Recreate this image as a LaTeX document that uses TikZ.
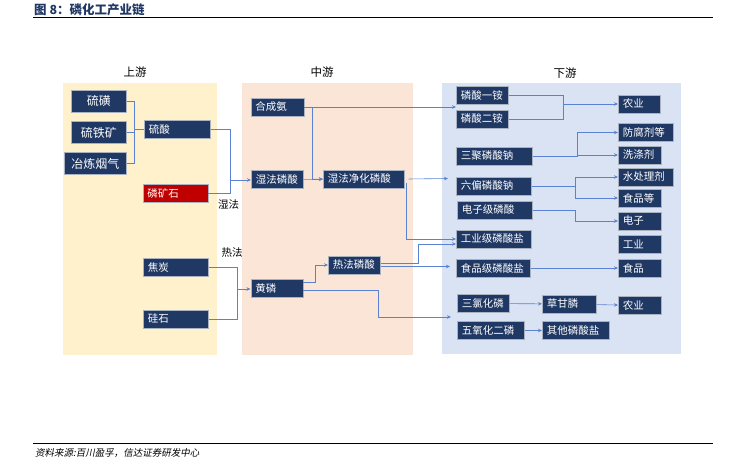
\documentclass[tikz,border=0pt]{standalone}
\usepackage{fontspec}
\newfontfamily\cjk{Noto Sans CJK SC}
\newfontfamily\cjkit[FakeSlant=0.2]{Noto Sans CJK SC}
\usepackage{xcolor}
\usepackage{tikz}
\usetikzlibrary{arrows.meta,calc}
\definecolor{navy}{RGB}{32,56,100}
\definecolor{orered}{RGB}{192,0,0}
\definecolor{boxedge}{RGB}{170,178,192}
\definecolor{linkblue}{RGB}{90,130,210}
\definecolor{upyellow}{RGB}{255,241,204}
\definecolor{midpeach}{RGB}{251,229,214}
\definecolor{downblue}{RGB}{218,227,243}

\begin{document}
\begin{tikzpicture}
    [
      x = 1pt, y = -1pt,
      box/.style = {draw=boxedge, line width=0.5pt, fill=navy, text=white, anchor=west,
        align=left, text width=#1, inner xsep=4.5pt, inner ysep=0pt, minimum height=18pt,
        font=\cjk\fontsize{10.5}{12}\selectfont},
      bigbox/.style = {box=#1, align=center, minimum height=22pt, font=\cjk\fontsize{12}{14}\selectfont},
      redbox/.style = {box=#1, fill=orered},
      link/.style = {draw=linkblue, line width=0.6pt},
      arrow/.style = {link, -{Stealth[length=4pt,width=3.5pt]}},
      stage/.style = {font=\cjk\fontsize{11.5}{13}\selectfont},
      way/.style = {font=\cjk\fontsize{10.5}{12}\selectfont},
    ]
    \useasboundingbox (0,0) rectangle (747,470);

    \node[anchor=west, text=navy, inner sep=0pt, font=\cjk\bfseries\fontsize{12.5}{14}\selectfont] (title) at (34,10) {图\ 8：磷化工产业链};
    \draw[line width=0.9pt] (33,17) -- (713,17);

    \fill[upyellow] (63,83) rectangle (217,355);
    \fill[midpeach] (242,83) rectangle (413,355);
    \fill[downblue] (442,83) rectangle (681,354);
    \node[stage] (up) at (135,72) {上游};
    \node[stage] (mid) at (322,72) {中游};
    \node[stage] (down) at (565,73) {下游};

    \node[bigbox=46pt] (liuhuang) at (71,101) {硫磺};
    \node[bigbox=46pt] (liutiekuang) at (71,132.5) {硫铁矿};
    \node[bigbox=53pt] (yanqi) at (64,163.5) {冶炼烟气};
    \node[box=57pt] (liusuan) at (144,129.5) {硫酸};
    \node[redbox=56pt] (linkuang) at (142.5,193.5) {磷矿石};
    \node[box=56pt] (jiaotan) at (143,267) {焦炭};
    \node[box=56pt] (guishi) at (143,319) {硅石};

    \node[box=44pt] (hechengan) at (250.5,107) {合成氨};
    \node[box=43pt] (shifa) at (251,179.5) {湿法磷酸};
    \node[box=72pt] (jinghua) at (323,179) {湿法净化磷酸};
    \node[box=43pt] (refa) at (328,265) {热法磷酸};
    \node[box=43pt] (huanglin) at (250.5,288.5) {黄磷};

    \node[box=43pt] (yian) at (456,95.5) {磷酸一铵};
    \node[box=43pt] (eran) at (456,119) {磷酸二铵};
    \node[box=67pt] (sanju) at (456,156) {三聚磷酸钠};
    \node[box=66pt] (liupian) at (456,186) {六偏磷酸钠};
    \node[box=66pt] (dianzijisuan) at (457,210) {电子级磷酸};
    \node[box=66pt] (gongyeji) at (456,239) {工业级磷酸盐};
    \node[box=65pt] (shipinji) at (456,268) {食品级磷酸盐};
    \node[box=43pt] (sanlv) at (457,303.5) {三氯化磷};
    \node[box=58pt] (wuyang) at (457,330.5) {五氧化二磷};
    \node[box=45pt] (caogan) at (542,304) {草甘膦};
    \node[box=58pt] (qita) at (542,330.5) {其他磷酸盐};

    \node[box=33pt] (nongye) at (618,104) {农业};
    \node[box=46pt] (fangfu) at (618,132.5) {防腐剂等};
    \node[box=34pt] (xidi) at (618,155) {洗涤剂};
    \node[box=46pt] (shuichuli) at (618,177) {水处理剂};
    \node[box=34pt] (shipindeng) at (618,198) {食品等};
    \node[box=34pt] (dianzi) at (618,221) {电子};
    \node[box=34pt] (gongye) at (618,244) {工业};
    \node[box=34pt] (shipin) at (618,268) {食品};
    \node[box=34pt] (nongyeb) at (618,305.5) {农业};

    \node[way] (shifalabel) at (228.5,205) {湿法};
    \node[way] (refalabel) at (232,253) {热法};

    \draw[link] (liuhuang.east) -- ++(8,0) |- (liusuan.west);
    \draw[link] (liutiekuang.east) -- ++(8,0) |- (liusuan.west);
    \draw[link] (yanqi.east) -- ++(8,0) |- (liusuan.west);

    \coordinate (wetin) at (230,180);
    \coordinate (hotin) at (237.5,289);
    \draw[link] (liusuan.east) -| (wetin);
    \draw[link] (linkuang.east) -| (wetin);
    \draw[arrow] (wetin) -- (wetin -| shifa.west);
    \draw[link] (jiaotan.east) -| (hotin);
    \draw[link] (guishi.east) -| (hotin);
    \draw[arrow] (hotin) -- (hotin -| huanglin.west);

    \coordinate (anin) at ($(yian.south west)!.5!(eran.north west)$);
    \coordinate (jhout) at (448,178.5);
    \coordinate (spin) at (450,266.5);
    \coordinate (pin) at (451,317);
    \draw[arrow] (hechengan.east) -- (hechengan.east -| anin);
    \draw[arrow] (hechengan.east) ++(8,0) |- (jinghua.west);
    \draw[arrow] (shifa) -- (jinghua);
    \draw[arrow] ([xshift=4pt]jinghua.east) -- (jhout);
    \draw[arrow] ([xshift=2pt,yshift=-4pt]jinghua.east) |- (gongyeji.west);
    \draw[arrow] ([yshift=2pt]refa.east) -- ++(38,0) |- ([yshift=-5pt]gongyeji.west);
    \draw[arrow] ([yshift=-1.5pt]refa.east) -- (spin);
    \draw[arrow] ([yshift=6.5pt]huanglin.east) -- ++(12,0) |- (refa.west);
    \draw[arrow] ([yshift=-1.5pt]huanglin.east) -- ++(75,0) |- (pin);

    \coordinate (nybus) at (563,104);
    \draw[link] (yian.east) -| (nybus);
    \draw[link] (eran.east) -| (nybus);
    \draw[arrow] (nybus) -- (nongye.west);
    \draw[arrow] (sanju.east) -- ++(45,0) |- (fangfu.west);
    \draw[arrow] (sanju.east) ++(45,0) |- (xidi.west);
    \draw[arrow] (liupian.east) -- ++(44,0) |- (shuichuli.west);
    \draw[arrow] (liupian.east) ++(44,0) |- (shipindeng.west);
    \draw[arrow] (dianzijisuan.east) -- ++(43,0) |- (dianzi.west);
    \draw[arrow] (shipinji) -- (shipin);
    \draw[arrow] (sanlv) -- (caogan);
    \draw[arrow] (caogan) -- (nongyeb);
    \draw[arrow] (wuyang) -- (qita);

    \draw[line width=1pt] (33,443) -- (713,443);
    \node[anchor=west, inner sep=0pt, font=\cjkit\fontsize{9.5}{11}\selectfont] (source) at (35,452.5) {资料来源:百川盈孚，信达证券研发中心};
\end{tikzpicture}
\end{document}
